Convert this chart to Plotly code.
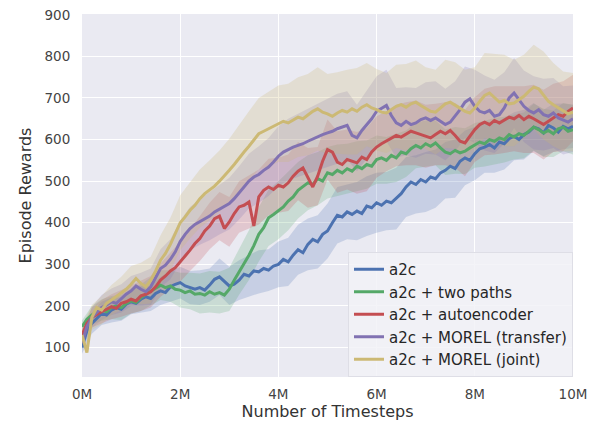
import plotly.graph_objects as go

# x positions in millions of timesteps (0.0 .. 10.0, step 0.1)
timesteps_m = [round(i * 0.1, 1) for i in range(101)]

series_names = ["a2c", "a2c + two paths", "a2c + autoencoder",
                "a2c + MOREL (transfer)", "a2c + MOREL (joint)"]

a2c = [100, 140, 158, 170, 182, 178, 190, 196, 192, 204,
       210, 206, 216, 222, 218, 230, 236, 232, 246, 252,
       256, 248, 244, 240, 244, 238, 250, 264, 270, 258,
       248, 252, 262, 276, 272, 284, 282, 290, 286, 296,
       300, 312, 306, 322, 335, 328, 348, 360, 354, 372,
       380, 400, 418, 414, 426, 420, 428, 422, 440, 436,
       448, 442, 452, 448, 458, 470, 486, 498, 492, 504,
       498, 510, 506, 520, 526, 536, 530, 548, 556, 550,
       566, 578, 582, 588, 580, 594, 590, 602, 608, 600,
       612, 618, 630, 626, 616, 634, 628, 618, 632, 626,
       632]

two_paths = [150, 168, 178, 184, 190, 186, 196, 200, 196, 206,
             212, 208, 220, 228, 236, 244, 250, 244, 248, 240,
             238, 232, 236, 228, 230, 226, 234, 228, 232, 226,
             240, 262, 282, 300, 322, 345, 372, 388, 412, 420,
             430, 438, 452, 462, 478, 488, 496, 492, 506, 500,
             520, 516, 526, 520, 530, 524, 536, 530, 540, 536,
             552, 556, 550, 562, 556, 570, 566, 578, 586, 580,
             590, 584, 592, 580, 570, 566, 574, 568, 572, 580,
             586, 594, 590, 600, 596, 604, 600, 612, 606, 614,
             610, 620, 630, 624, 616, 622, 614, 626, 630, 620,
             624]

autoencoder = [130, 158, 172, 180, 186, 192, 198, 194, 206, 210,
               216, 212, 224, 228, 234, 246, 262, 272, 284, 292,
               306, 318, 334, 350, 362, 380, 392, 410, 416, 386,
               402, 422, 438, 442, 450, 392, 462, 478, 486, 480,
               490, 486, 496, 512, 524, 532, 508, 486, 512, 548,
               576, 570, 546, 540, 552, 548, 544, 558, 552, 570,
               582, 590, 596, 604, 610, 606, 614, 620, 616, 612,
               608, 604, 612, 620, 614, 622, 610, 596, 592, 608,
               624, 636, 642, 636, 646, 640, 648, 654, 650, 658,
               648, 656, 650, 642, 636, 644, 652, 660, 656, 668,
               676]

morel_transfer = [110, 150, 172, 184, 196, 202, 210, 206, 218, 228,
                  236, 248, 240, 234, 246, 268, 290, 298, 312, 330,
                  355, 372, 386, 396, 402, 410, 416, 426, 432, 440,
                  446, 458, 472, 484, 500, 510, 516, 526, 534, 546,
                  560, 570, 576, 582, 586, 590, 596, 602, 606, 612,
                  616, 620, 626, 630, 634, 610, 604, 622, 636, 650,
                  668, 676, 682, 658, 640, 634, 644, 636, 640, 648,
                  652, 646, 652, 644, 636, 642, 656, 672, 690, 698,
                  680, 668, 664, 670, 656, 660, 676, 700, 712, 696,
                  680, 670, 664, 672, 660, 656, 664, 652, 646, 642,
                  650]

morel_joint = [130, 88, 172, 196, 190, 206, 214, 222, 230, 240,
               252, 266, 254, 246, 262, 284, 310, 326, 348, 372,
               400, 414, 430, 442, 458, 470, 478, 488, 500, 512,
               526, 540, 556, 570, 584, 600, 614, 620, 626, 632,
               638, 644, 640, 648, 654, 650, 660, 668, 674, 666,
               662, 656, 664, 670, 666, 674, 668, 678, 684, 676,
               672, 666, 664, 672, 680, 684, 678, 686, 690, 682,
               676, 668, 666, 676, 686, 690, 682, 676, 668, 664,
               676, 692, 706, 712, 700, 690, 694, 686, 688, 696,
               704, 716, 726, 722, 706, 692, 684, 676, 668, 662,
               666]

# spread (std band half-width) every 0.2M, i.e. at every other point
a2c_spread = [15, 25, 28, 30, 28, 30, 32, 30, 34, 36,
              38, 40, 42, 40, 44, 46, 48, 50, 52, 50,
              55, 58, 60, 62, 64, 66, 68, 66, 70, 72,
              72, 70, 74, 72, 70, 72, 70, 68, 70, 66,
              64, 62, 60, 62, 58, 60, 58, 56, 58, 55,
              52]
two_paths_spread = [15, 22, 26, 28, 30, 30, 32, 34, 36, 38,
                    42, 44, 48, 50, 50, 52, 55, 60, 65, 68,
                    70, 70, 68, 66, 64, 62, 62, 60, 60, 58,
                    58, 56, 58, 56, 55, 56, 54, 55, 56, 55,
                    54, 55, 56, 55, 54, 55, 56, 58, 56, 58,
                    60]
autoencoder_spread = [15, 24, 28, 30, 32, 34, 36, 38, 40, 44,
                      48, 50, 54, 56, 58, 60, 62, 64, 66, 68,
                      66, 68, 70, 72, 70, 72, 74, 72, 74, 76,
                      74, 72, 74, 76, 78, 76, 74, 76, 78, 80,
                      78, 80, 82, 80, 78, 80, 82, 84, 82, 84,
                      80]
morel_transfer_spread = [15, 25, 30, 32, 34, 36, 40, 44, 46, 48,
                         50, 52, 55, 58, 60, 62, 64, 66, 68, 70,
                         72, 74, 76, 78, 80, 82, 84, 82, 80, 82,
                         84, 86, 84, 82, 84, 86, 88, 86, 84, 86,
                         88, 90, 88, 86, 84, 86, 88, 86, 84, 82,
                         80]
morel_joint_spread = [20, 30, 34, 36, 40, 44, 50, 56, 60, 64,
                      66, 68, 70, 72, 74, 76, 80, 84, 86, 90,
                      92, 94, 96, 98, 100, 96, 98, 102, 104, 100,
                      98, 96, 100, 104, 100, 98, 102, 106, 104, 100,
                      98, 102, 106, 110, 104, 100, 102, 106, 100, 96,
                      94]

x_tick_vals = [0, 2, 4, 6, 8, 10]
x_tick_text = ["0M", "2M", "4M", "6M", "8M", "10M"]

colors = ["#4C72B0", "#55A868", "#C44E52", "#8172B2", "#CCB974"]
fills = ["rgba(76,114,176,0.22)", "rgba(85,168,104,0.22)", "rgba(196,78,82,0.22)",
         "rgba(129,114,178,0.22)", "rgba(204,185,116,0.25)"]

means = [a2c, two_paths, autoencoder, morel_transfer, morel_joint]
spreads = [a2c_spread, two_paths_spread, autoencoder_spread,
           morel_transfer_spread, morel_joint_spread]

fig = go.Figure()

for m, s, fc in zip(means, spreads, fills):
    bx = timesteps_m[::2]
    bm = m[::2]
    upper = [a + b for a, b in zip(bm, s)]
    lower = [a - b for a, b in zip(bm, s)]
    fig.add_trace(go.Scatter(
        x=bx + bx[::-1], y=upper + lower[::-1],
        fill="toself", fillcolor=fc, line=dict(width=0),
        mode="lines", showlegend=False, hoverinfo="skip"))

for name, m, c in zip(series_names, means, colors):
    fig.add_trace(go.Scatter(
        x=timesteps_m, y=m, mode="lines", name=name,
        line=dict(color=c, width=3)))

font_family = "DejaVu Sans"
fig.update_layout(
    width=594, height=426,
    margin=dict(l=82, r=17, t=7, b=49),
    paper_bgcolor="white",
    plot_bgcolor="#EAEAF2",
    font=dict(family=font_family, color="#333333", size=13),
    legend=dict(
        x=1, y=0, xanchor="right", yanchor="bottom",
        bgcolor="rgba(242,242,247,0.85)",
        bordercolor="rgba(222,222,230,1)", borderwidth=1,
        font=dict(size=15, color="#262626"),
        tracegroupgap=0,
    ),
    showlegend=True,
)
fig.update_xaxes(
    range=[0, 10], tickvals=x_tick_vals, ticktext=x_tick_text,
    showgrid=True, gridcolor="white", gridwidth=1.2, zeroline=False,
    showline=False, ticks="outside", ticklen=5, tickcolor="rgba(0,0,0,0)",
    tickfont=dict(size=13.5, color="#444444"),
    title=dict(text="Number of Timesteps", font=dict(size=16, color="#333333"), standoff=3),
)
fig.update_yaxes(
    range=[29, 902], tick0=0, dtick=100,
    showgrid=True, gridcolor="white", gridwidth=1.2, zeroline=False,
    showline=False, ticks="outside", ticklen=8, tickcolor="rgba(0,0,0,0)",
    tickfont=dict(size=13.5, color="#444444"), ticklabeloverflow="allow",
    title=dict(text="Episode Rewards", font=dict(size=16, color="#333333"), standoff=8),
)

fig.write_html("out.html")
